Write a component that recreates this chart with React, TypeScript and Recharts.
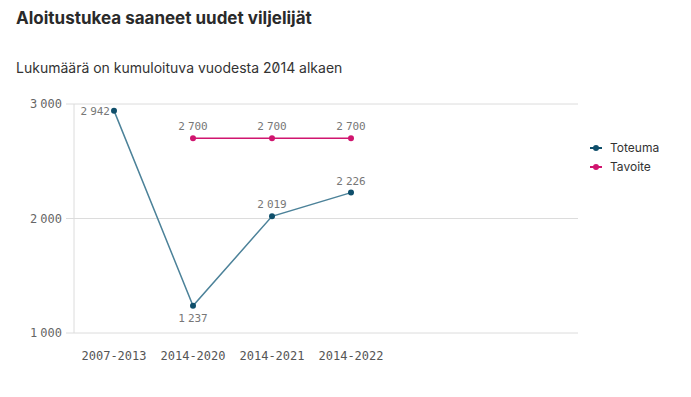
import React from "react";
import { LineChart, Line, XAxis, YAxis, CartesianGrid, LabelList } from "recharts";

const categories = ["2007-2013", "2014-2020", "2014-2021", "2014-2022"];
const toteuma = [2942, 1237, 2019, 2226];
const tavoite: (number | null)[] = [null, 2700, 2700, 2700];
const yTicks = [1000, 2000, 3000];

const data = categories.map((c, i) => ({ cat: c, toteuma: toteuma[i], tavoite: tavoite[i] }));

const MONO = "'DejaVu Sans Mono', monospace";
const SANS = "Inter, 'Open Sans', sans-serif";
const TEAL = "#0f4f6b";
const TEAL_LINE = "#4c8299";
const PINK = "#d0156f";

const groups = (v: number) => {
  const s = String(v);
  const head = s.length > 3 ? s.slice(0, s.length - 3) : "";
  const tail = s.length > 3 ? s.slice(-3) : s;
  return { head, tail };
};

const NumText = ({ x, y, value, anchor, size, fill }: any) => {
  const { head, tail } = groups(value);
  return (
    <text x={x} y={y} textAnchor={anchor} fontFamily={MONO} fontSize={size} fill={fill}>
      {head ? <tspan>{head}</tspan> : null}
      <tspan dx={head ? 3 : 0}>{tail}</tspan>
    </text>
  );
};

const TotLabel = (props: any) => {
  const { x, y, value, index } = props;
  let tx = x, ty = y - 8, anchor: any = "middle";
  if (index === 0) { tx = x - 4; ty = y + 4; anchor = "end"; }
  if (index === 1) { ty = y + 16; }
  return <NumText x={tx} y={ty} value={value} anchor={anchor} size={11} fill="#777" />;
};

const TavLabel = (props: any) => {
  const { x, y, value } = props;
  if (value == null) return null;
  return <NumText x={x} y={y - 8} value={value} anchor="middle" size={11} fill="#777" />;
};

const YTick = (props: any) => {
  const { x, y, payload } = props;
  return <NumText x={x} y={y + 4} value={payload.value} anchor="end" size={12} fill="#666" />;
};

export default function App() {
  return (
    <div style={{ position: "fixed", left: 0, top: 0, width: 691, height: 397, background: "#fff", overflow: "hidden" }}>
      <div style={{ position: "absolute", left: 16, top: 8, fontFamily: SANS, fontWeight: 700, fontSize: 17, color: "#2a2a2a", whiteSpace: "nowrap" }}>
        Aloitustukea saaneet uudet viljelijät
      </div>
      <div style={{ position: "absolute", left: 16, top: 59, fontFamily: SANS, fontSize: 14, color: "#333", whiteSpace: "nowrap", fontFeatureSettings: "'zero'" }}>
        Lukumäärä on kumuloituva vuodesta 2014 alkaen
      </div>
      <div style={{ position: "absolute", left: 0, top: 0 }}>
        <LineChart width={691} height={397} data={data} margin={{ top: 104, right: 113, bottom: 24, left: 0 }}>
          <CartesianGrid vertical={false} stroke="#dcdcdc" />
          <XAxis
            dataKey="cat"
            axisLine={false}
            tickLine={false}
            padding={{ left: 40, right: 227 }}
            height={40}
            tickMargin={12}
            tick={{ fontFamily: MONO, fontSize: 12, fill: "#555" }}
            interval={0}
          />
          <YAxis
            domain={[1000, 3000]}
            ticks={yTicks}
            width={74}
            axisLine={{ stroke: "#dcdcdc" }}
            tickLine={{ stroke: "#dcdcdc" }}
            tickSize={8}
            tickMargin={4}
            tick={<YTick />}
          />
          <Line
            dataKey="toteuma"
            stroke={TEAL_LINE}
            strokeWidth={1.5}
            dot={{ r: 3, fill: TEAL, stroke: TEAL, strokeWidth: 0 }}
            activeDot={false}
            isAnimationActive={false}
          >
            <LabelList dataKey="toteuma" content={<TotLabel />} />
          </Line>
          <Line
            dataKey="tavoite"
            stroke={PINK}
            strokeWidth={1.5}
            dot={{ r: 3, fill: PINK, stroke: PINK, strokeWidth: 0 }}
            activeDot={false}
            connectNulls={false}
            isAnimationActive={false}
          >
            <LabelList dataKey="tavoite" content={<TavLabel />} />
          </Line>
        </LineChart>
      </div>
      {[{ n: "Toteuma", c: TEAL }, { n: "Tavoite", c: PINK }].map((l, i) => (
        <div key={l.n} style={{ position: "absolute", left: 590, top: 140 + i * 19, display: "flex", alignItems: "center", fontFamily: SANS, fontSize: 12, color: "#333" }}>
          <svg width={12} height={8} style={{ marginRight: 8 }}>
            <line x1={0} y1={4} x2={12} y2={4} stroke={l.c} strokeWidth={2} />
            <circle cx={6} cy={4} r={3} fill={l.c} />
          </svg>
          {l.n}
        </div>
      ))}
    </div>
  );
}
